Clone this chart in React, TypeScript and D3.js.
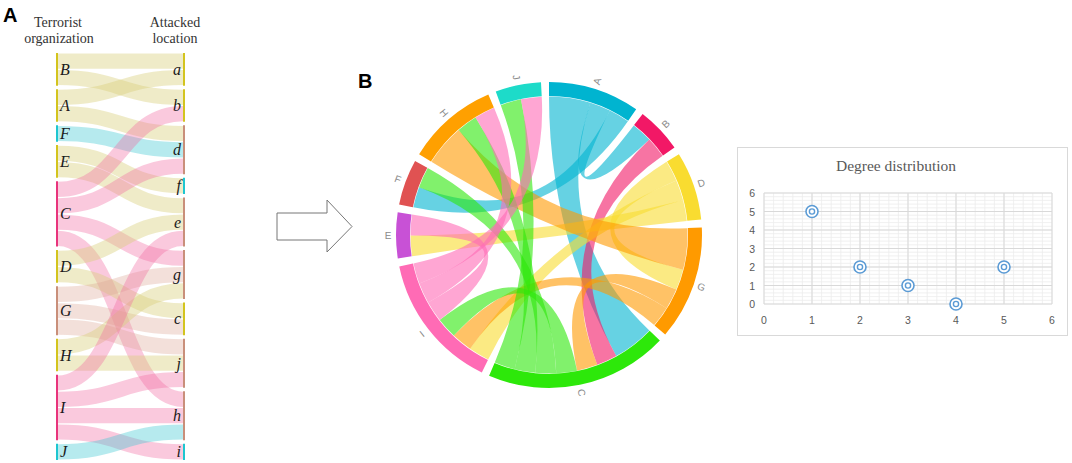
import * as d3 from 'd3';

// panel A: organizations -> locations they attacked
const orgs = ["B", "A", "F", "E", "C", "D", "G", "H", "I", "J"];
const places = ["a", "b", "d", "f", "e", "g", "c", "j", "h", "i"];
const attacks: [string, string][] = [
  ["B", "a"], ["B", "b"], ["A", "a"], ["A", "d"], ["F", "d"],
  ["E", "f"], ["E", "e"], ["C", "b"], ["C", "d"], ["C", "g"], ["C", "h"],
  ["D", "e"], ["D", "c"], ["G", "g"], ["G", "c"], ["G", "j"],
  ["H", "g"], ["H", "j"], ["I", "e"], ["I", "j"], ["I", "h"], ["I", "i"],
  ["J", "h"],
];

// panel B: chord of the organization network
const chordNames = ["A", "B", "D", "G", "C", "I", "E", "F", "H", "J"];
const chordMatrix = [
  [0, 1, 0, 0, 2, 0, 0, 1, 0, 0],
  [1, 0, 0, 0, 1, 0, 0, 0, 0, 0],
  [0, 0, 0, 1, 0, 1, 1, 0, 0, 0],
  [0, 0, 1, 0, 1, 1, 0, 0, 2, 0],
  [2, 1, 0, 1, 0, 1, 0, 1, 1, 1],
  [0, 0, 1, 1, 1, 0, 1, 0, 1, 1],
  [0, 0, 1, 0, 0, 1, 0, 0, 0, 0],
  [1, 0, 0, 0, 1, 0, 0, 0, 0, 0],
  [0, 0, 0, 2, 1, 1, 0, 0, 0, 0],
  [0, 0, 0, 0, 1, 1, 0, 0, 0, 0],
];

// degree distribution
const degrees = [1, 2, 3, 4, 5];
const nodeCounts = [5, 2, 1, 0, 2];
const axisTicks = [0, 1, 2, 3, 4, 5, 6];

// styles
const tones: Record<string, { bar: string; link: string; op: number }> = {
  y: { bar: "#d3c41e", link: "#d8cf7c", op: 0.42 },
  c: { bar: "#1ec6d0", link: "#3ec8d2", op: 0.38 },
  p: { bar: "#e8347c", link: "#f06aa0", op: 0.36 },
  b: { bar: "#c98f7a", link: "#dca596", op: 0.35 },
};
const orgTone = ["y", "y", "c", "y", "p", "y", "b", "y", "p", "c"];
const placeTone = ["y", "y", "b", "c", "b", "b", "y", "b", "b", "c"];
const chordColors = ["#00b4d0", "#f21866", "#f9dc30", "#ff9a00", "#2de80a", "#ff6bb5", "#c851d6", "#e05252", "#ffa000", "#1ddbc9"];

const serif = "'Liberation Serif', 'Times New Roman', serif";
const sans = "'Liberation Sans', Arial, sans-serif";

function SankeyPanel() {
  const gap = 0.21;
  const total = attacks.length + (orgs.length - 1) * gap;
  const y = d3.scaleLinear().domain([0, total]).range([53, 460]);
  const xL = 57, xR = 184;

  const layout = (names: string[], key: 0 | 1) => {
    let acc = 0;
    return names.map((n) => {
      const count = attacks.filter((l) => l[key] === n).length;
      const node = { name: n, start: acc, end: acc + count };
      acc += count + gap;
      return node;
    });
  };
  const left = layout(orgs, 0);
  const right = layout(places, 1);

  const links = attacks.map(([s, t]) => ({ si: orgs.indexOf(s), ti: places.indexOf(t) }));
  const bands = links.map((l) => {
    const atSrc = links.filter((o) => o.si === l.si).sort((a, b) => a.ti - b.ti);
    const atTgt = links.filter((o) => o.ti === l.ti).sort((a, b) => a.si - b.si);
    const sy = left[l.si].start + atSrc.indexOf(l) + 0.5;
    const ty = right[l.ti].start + atTgt.indexOf(l) + 0.5;
    return { ...l, sy, ty };
  });
  const link = d3.linkHorizontal<any, any>();
  const w = y(1) - y(0) - 1.2;

  return (
    <g>
      <text x={3} y={22} fontFamily={sans} fontWeight="bold" fontSize={20}>A</text>
      <g fontFamily={serif} fontSize={14} fill="#333" textAnchor="middle">
        <text x={58} y={27}>Terrorist</text>
        <text x={59} y={43}>organization</text>
        <text x={175} y={27}>Attacked</text>
        <text x={175} y={43}>location</text>
      </g>
      {bands.map((b, i) => {
        const t = tones[orgTone[b.si]];
        return (
          <path key={i} d={link({ source: [xL + 1, y(b.sy)], target: [xR - 1, y(b.ty)] })!}
            fill="none" stroke={t.link} strokeOpacity={t.op} strokeWidth={w} />
        );
      })}
      {left.map((n, i) => (
        <g key={n.name}>
          <line x1={xL} x2={xL} y1={y(n.start)} y2={y(n.end)} stroke={tones[orgTone[i]].bar} strokeWidth={2} />
          <text x={xL + 3} y={(y(n.start) + y(n.end)) / 2 + 5.5} fontFamily={serif} fontStyle="italic" fontSize={16} fill="#1a1a1a">{n.name}</text>
        </g>
      ))}
      {right.map((n, i) => (
        <g key={n.name}>
          <line x1={xR} x2={xR} y1={y(n.start)} y2={y(n.end)} stroke={tones[placeTone[i]].bar} strokeWidth={2} />
          <text x={xR - 3} y={(y(n.start) + y(n.end)) / 2 + 5.5} textAnchor="end" fontFamily={serif} fontStyle="italic" fontSize={16} fill="#1a1a1a">{n.name}</text>
        </g>
      ))}
    </g>
  );
}

function ChordPanel() {
  const cx = 549, cy = 235, rOut = 153, rIn = 139;
  const chords = d3.chord().padAngle((3 * Math.PI) / 180).sortSubgroups(d3.descending)(chordMatrix);
  const arc = d3.arc<any>().innerRadius(rIn).outerRadius(rOut);
  const ribbon = d3.ribbon<any, any>().radius(rIn - 0.5);
  return (
    <g>
      <text x={358} y={88} fontFamily={sans} fontWeight="bold" fontSize={20}>B</text>
      <g transform={`translate(${cx},${cy})`}>
        {chords.map((c, i) => (
          <path key={i} d={ribbon(c) as any} fill={chordColors[c.source.index]} fillOpacity={0.6} />
        ))}
        {chords.groups.map((g) => {
          const a = (g.startAngle + g.endAngle) / 2;
          const deg = (a * 180) / Math.PI;
          return (
            <g key={g.index}>
              <path d={arc(g) as string} fill={chordColors[g.index]} />
              <text transform={`rotate(${deg - 90}) translate(161,0) rotate(${a > Math.PI ? 180 : 0})`}
                textAnchor="middle" dy="0.35em" fontFamily={sans} fontSize={10} fill="#8a8a8a">
                {chordNames[g.index]}
              </text>
            </g>
          );
        })}
      </g>
    </g>
  );
}

function DegreePanel() {
  const x = d3.scaleLinear().domain([0, 6]).range([764, 1052]);
  const y = d3.scaleLinear().domain([0, 6]).range([304, 193]);
  const minorX = d3.range(0, 6.001, 0.2);
  const minorY = d3.range(0, 6.001, 0.2);
  return (
    <g>
      <rect x={737.5} y={147.5} width={330} height={188} fill="#fff" stroke="#d9d9d9" />
      <text x={896} y={171} textAnchor="middle" fontFamily={serif} fontSize={15.5} fill="#595959">Degree distribution</text>
      {minorX.map((v, i) => (
        <line key={"mx" + i} x1={x(v)} x2={x(v)} y1={y(6)} y2={y(0)} stroke="#ececec" strokeWidth={0.8} />
      ))}
      {minorY.map((v, i) => (
        <line key={"my" + i} x1={x(0)} x2={x(6)} y1={y(v)} y2={y(v)} stroke="#ececec" strokeWidth={0.8} />
      ))}
      {axisTicks.map((v) => (
        <g key={"g" + v}>
          <line x1={x(v)} x2={x(v)} y1={y(6)} y2={y(0)} stroke="#d9d9d9" />
          <line x1={x(0)} x2={x(6)} y1={y(v)} y2={y(v)} stroke="#d9d9d9" />
          <text x={755} y={y(v) + 4} textAnchor="end" fontFamily={sans} fontSize={10.5} fill="#595959">{v}</text>
          <text x={x(v)} y={324} textAnchor="middle" fontFamily={sans} fontSize={10.5} fill="#595959">{v}</text>
        </g>
      ))}
      {degrees.map((d, i) => (
        <g key={"p" + i}>
          <circle cx={x(d)} cy={y(nodeCounts[i])} r={6} fill="#fff" stroke="#5b9bd5" strokeWidth={1.6} />
          <circle cx={x(d)} cy={y(nodeCounts[i])} r={2.6} fill="#fff" stroke="#5b9bd5" strokeWidth={1.4} />
        </g>
      ))}
    </g>
  );
}

export default function App() {
  return (
    <svg width={1072} height={463} style={{ position: 'absolute', left: 0, top: 0, background: '#fff' }}>
      <SankeyPanel />
      <polygon points="277,213 327,213 327,200 352,226.5 327,252 327,240 277,240" fill="#fff" stroke="#777" strokeWidth={1} />
      <ChordPanel />
      <DegreePanel />
    </svg>
  );
}
